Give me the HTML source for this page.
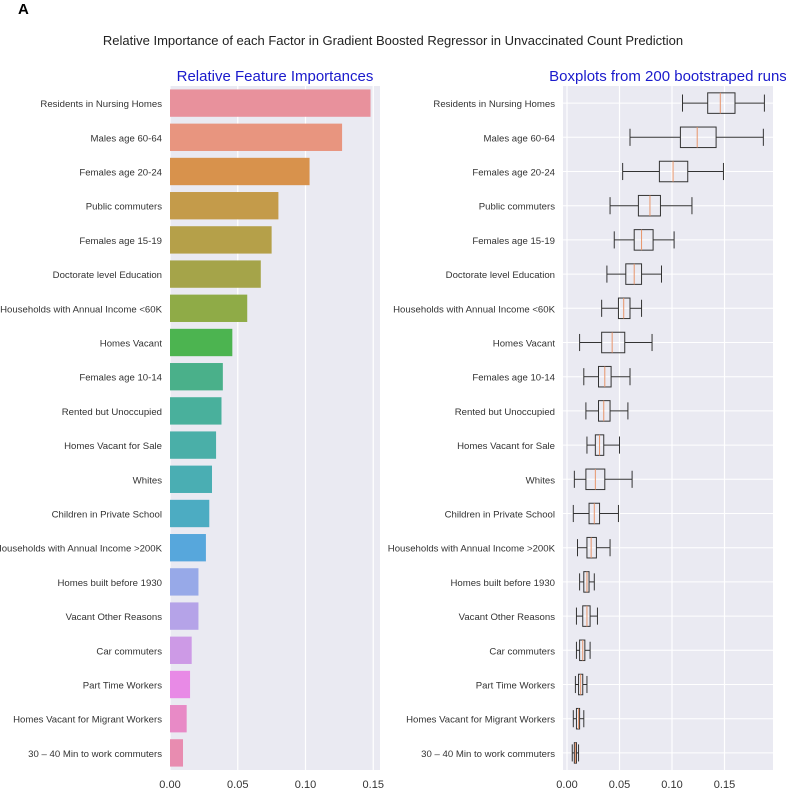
<!DOCTYPE html>
<html><head><meta charset="utf-8"><style>
body{margin:0;background:#fff;width:786px;height:788px;overflow:hidden}
svg{display:block;font-family:"Liberation Sans",sans-serif}
</style></head><body>
<svg id="chart" width="786" height="788" viewBox="0 0 786 788">
<text x="18" y="14" font-size="15" font-weight="bold" fill="#000">A</text>
<text x="393" y="45" font-size="13" text-anchor="middle" fill="#222">Relative Importance of each Factor in Gradient Boosted Regressor in Unvaccinated Count Prediction</text>
<text x="275" y="81" font-size="15" text-anchor="middle" fill="#1a1acc">Relative Feature Importances</text>
<text x="668" y="81" font-size="15" text-anchor="middle" fill="#1a1acc">Boxplots from 200 bootstraped runs</text>
<g id="left"></g>
<g id="right"></g>
</svg>
<script>
const categories=["Residents in Nursing Homes","Males age 60-64","Females age 20-24","Public commuters","Females age 15-19","Doctorate level Education","Households with Annual Income <60K","Homes Vacant","Females age 10-14","Rented but Unoccupied","Homes Vacant for Sale","Whites","Children in Private School","Households with Annual Income >200K","Homes built before 1930","Vacant Other Reasons","Car commuters","Part Time Workers","Homes Vacant for Migrant Workers","30 \u2013 40 Min to work commuters"];
const importances=[0.148,0.127,0.103,0.080,0.075,0.067,0.057,0.046,0.039,0.038,0.034,0.031,0.029,0.0265,0.021,0.021,0.016,0.0148,0.0123,0.0096];
const barColors=["#e8919c","#e8957f","#d8924c","#c49b4a","#b5a049","#a5a449","#8fab47","#4cb450","#4ab08a","#49b09c","#4aafa8","#4aaeb3","#4cacc2","#57a7dc","#97a9e8","#b5a3e8","#cd9ae6","#e88ae6","#e88ac6","#e88cb0"];
const whiskLo=[0.110,0.060,0.053,0.041,0.045,0.038,0.033,0.012,0.016,0.018,0.019,0.007,0.006,0.010,0.012,0.009,0.009,0.008,0.006,0.005];
const q1=[0.134,0.108,0.088,0.068,0.064,0.056,0.049,0.033,0.030,0.030,0.027,0.018,0.021,0.019,0.016,0.015,0.012,0.011,0.009,0.007];
const med=[0.146,0.124,0.101,0.079,0.071,0.064,0.054,0.043,0.036,0.035,0.031,0.027,0.026,0.023,0.019,0.019,0.015,0.013,0.011,0.008];
const q3=[0.160,0.142,0.115,0.089,0.082,0.071,0.060,0.055,0.042,0.041,0.035,0.036,0.031,0.028,0.021,0.022,0.017,0.015,0.012,0.009];
const whiskHi=[0.188,0.187,0.149,0.119,0.102,0.090,0.071,0.081,0.060,0.058,0.050,0.062,0.049,0.041,0.026,0.029,0.022,0.019,0.016,0.011];
const leftTicks=[0,0.05,0.10,0.15];
const leftTickLabels=["0.00","0.05","0.10","0.15"];
const rightTicks=[0,0.05,0.10,0.15];
const rightTickLabels=["0.00","0.05","0.10","0.15"];
(function(){
const NS="http://www.w3.org/2000/svg";
function mk(p,t,a){const e=document.createElementNS(NS,t);for(const k in a)e.setAttribute(k,a[k]);p.appendChild(e);return e;}
const yTop=86,yBot=770,n=categories.length,step=(yBot-yTop)/n;
const yC=i=>yTop+step*(i+0.5);
const xL=v=>170+v*1355;
const xR=v=>567+v*1050;
const L=document.getElementById('left');
const bgL=mk(L,'rect',{x:170,y:yTop,width:210,height:yBot-yTop,fill:'#eaeaf2'});


leftTicks.forEach((t,i)=>{
 const g=mk(L,'line',{x1:xL(t),x2:xL(t),y1:yTop,y2:yBot,stroke:'#fff','stroke-width':1.2});
 
 
 const tl=mk(L,'text',{x:xL(t),y:788,'font-size':11,'text-anchor':'middle',fill:'#333'});
 tl.textContent=leftTickLabels[i];
 
 
});
categories.forEach((c,i)=>{
 const y=yC(i);
 const b=mk(L,'rect',{x:xL(0),y:y-step*0.4,width:xL(importances[i])-xL(0),height:step*0.8,fill:barColors[i]});
 
 
 const lb=mk(L,'text',{x:162,y:y+4,'font-size':9.6,'text-anchor':'end',fill:'#333'});
 lb.textContent=c;
 
 
});
const R=document.getElementById('right');
const bgR=mk(R,'rect',{x:563,y:yTop,width:210,height:yBot-yTop,fill:'#eaeaf2'});


rightTicks.forEach((t,i)=>{
 const g=mk(R,'line',{x1:xR(t),x2:xR(t),y1:yTop,y2:yBot,stroke:'#fff','stroke-width':1.2});
 
 
 const tl=mk(R,'text',{x:xR(t),y:788,'font-size':11,'text-anchor':'middle',fill:'#333'});
 tl.textContent=rightTickLabels[i];
 
 
});
categories.forEach((c,i)=>{
 const y=yC(i);
 const gl=mk(R,'line',{x1:563,x2:773,y1:y,y2:y,stroke:'#fff','stroke-width':1});
 
 
 const h=step*0.5;
 const w1=mk(R,'line',{x1:xR(whiskLo[i]),x2:xR(q1[i]),y1:y,y2:y,stroke:'#333','stroke-width':1});
 
 
 const w2=mk(R,'line',{x1:xR(q3[i]),x2:xR(whiskHi[i]),y1:y,y2:y,stroke:'#333','stroke-width':1});
 
 
 const c1=mk(R,'line',{x1:xR(whiskLo[i]),x2:xR(whiskLo[i]),y1:y-h/2,y2:y+h/2,stroke:'#333','stroke-width':1});
 
 
 const c2=mk(R,'line',{x1:xR(whiskHi[i]),x2:xR(whiskHi[i]),y1:y-h/2,y2:y+h/2,stroke:'#333','stroke-width':1});
 
 
 const bx=mk(R,'rect',{x:xR(q1[i]),y:y-step*0.3,width:Math.max(1,xR(q3[i])-xR(q1[i])),height:step*0.6,fill:'none',stroke:'#333','stroke-width':1});
 
 
 const md=mk(R,'line',{x1:xR(med[i]),x2:xR(med[i]),y1:y-step*0.3,y2:y+step*0.3,stroke:'#e8956a','stroke-width':1});
 
 
 const lb=mk(R,'text',{x:555,y:y+4,'font-size':9.6,'text-anchor':'end',fill:'#333'});
 lb.textContent=c;
 
 
});
})();
</script>
</body></html>
